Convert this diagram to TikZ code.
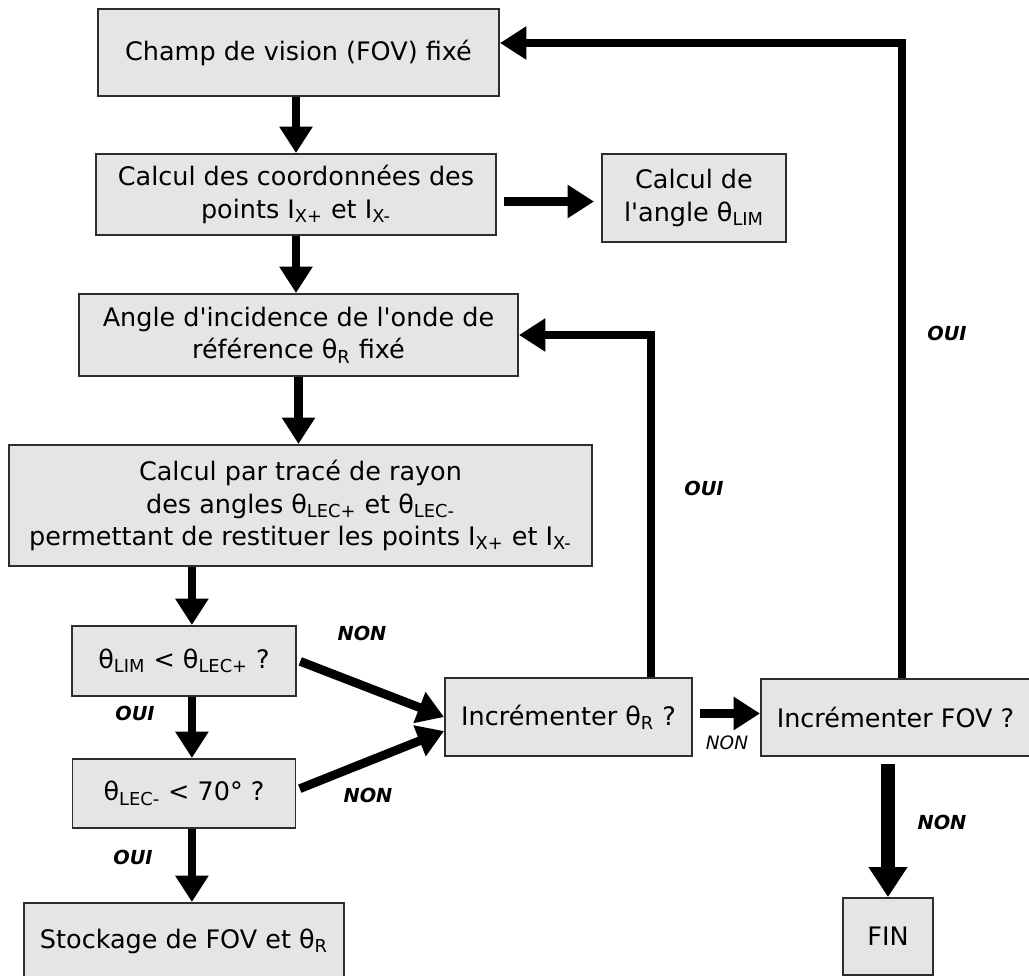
\documentclass[tikz,border=0pt]{standalone}
\usepackage{fontspec}
\setmainfont{DejaVu Sans}
\usepackage{tikz}
\usepackage{xcolor}
\usetikzlibrary{positioning, arrows.meta}
\definecolor{fcfill}{RGB}{229, 229, 229}
\definecolor{fcline}{RGB}{45, 45, 45}
\newcommand{\fcsub}[1]{\textsubscript{#1}}
\newcommand{\fcq}{\textquotesingle}
\tikzset{
    fcbox/.style={rectangle, draw=fcline, fill=fcfill, line width=1.1pt, align=center, inner sep=2pt, font=\fontsize{14.5}{18.5}\selectfont},
    fcarrow/.style={line width=5pt, -{Triangle[width=18pt, length=15pt]}},
    bigarrow/.style={line width=8.5pt, -{Triangle[width=21pt, length=17pt]}},
    fclabel/.style={font=\fontsize{11}{13}\selectfont\bfseries\itshape}
}

\begin{document}
\begin{tikzpicture}[x=0.2mm, y=-0.2mm]
    \useasboundingbox (0,0) rectangle (1029,976);
    \node[fcbox, minimum width=80.2mm, minimum height=17.4mm] (fov) at (298.5,52.5) {Champ de vision (FOV) fixé};
    \node[fcbox, minimum width=80mm, minimum height=16.2mm] (coord) at (296,194.5) {Calcul des coordonnées des\\points I\fcsub{X+} et I\fcsub{X-}};
    \node[fcbox, minimum width=36.8mm, minimum height=17.6mm] (lim) at (694,198) {Calcul de\\l\fcq angle θ\fcsub{LIM}};
    \node[fcbox, minimum width=87.8mm, minimum height=16.4mm] (incid) at (298.5,335) {Angle d\fcq incidence de l\fcq onde de\\référence θ\fcsub{R} fixé};
    \node[fcbox, minimum width=116.6mm, minimum height=24.2mm] (trace) at (300.5,505.5) {Calcul par tracé de rayon\\des angles θ\fcsub{LEC+} et θ\fcsub{LEC-}\\permettant de restituer les points I\fcsub{X+} et I\fcsub{X-}};
    \node[fcbox, minimum width=44.8mm, minimum height=14mm] (tlim) at (184,661) {θ\fcsub{LIM} < θ\fcsub{LEC+} ?};
    \node[fcbox, minimum width=44.6mm, minimum height=13.8mm] (tlec) at (184,793.5) {θ\fcsub{LEC-} < 70° ?};
    \node[fcbox, minimum width=64mm, minimum height=15.4mm] (stock) at (184,941.5) {Stockage de FOV et θ\fcsub{R}};
    \node[fcbox, minimum width=49.4mm, minimum height=15.6mm] (incr) at (568.5,717) {Incrémenter θ\fcsub{R} ?};
    \node[fcbox, minimum width=53.8mm, minimum height=15.4mm] (incfov) at (895.5,717.5) {Incrémenter FOV ?};
    \node[fcbox, minimum width=18mm, minimum height=15.4mm] (fin) at (888,936.5) {FIN};

    \coordinate (tlimtop) at ([xshift=4.5pt]tlim.north);
    \draw[fcarrow] (fov.south -| coord.north) -- (coord.north);
    \draw[fcarrow, shorten <=4pt, shorten >=4pt] ([yshift=-4pt]coord.east) -- ([yshift=-4pt]coord.east -| lim.west);
    \draw[fcarrow] (coord.south) -- (coord.south |- incid.north);
    \draw[fcarrow] (incid.south) -- (incid.south |- trace.north);
    \draw[fcarrow] (trace.south -| tlimtop) -- (tlimtop);
    \draw[fcarrow] ([xshift=4.5pt]tlim.south) -- ([xshift=4.5pt]tlec.north);
    \draw[fcarrow] ([xshift=4.5pt]tlec.south) -- ([xshift=4.5pt]stock.north);
    \draw[fcarrow, shorten <=2pt] ([yshift=0.5pt]tlim.east) -- (incr.west);
    \draw[fcarrow, shorten <=2pt] ([yshift=2pt]tlec.east) -- ([yshift=-8pt]incr.west);
    \draw[fcarrow, shorten <=4pt] ([yshift=2pt]incr.east) -- ([yshift=2pt]incr.east -| incfov.west);
    \draw[fcarrow] ([xshift=47pt]incr.north) |- (incid.east);
    \draw[fcarrow] ([xshift=3.7pt]incfov.north) |- ([yshift=5.4pt]fov.east);
    \draw[bigarrow, shorten <=4pt] (incfov.south -| fin.north) -- (fin.north);

    \node[fclabel] (non1) at (362,633) {NON};
    \node[fclabel] (oui1) at (135,713) {OUI};
    \node[fclabel] (non2) at (368,795) {NON};
    \node[fclabel] (oui2) at (133,857) {OUI};
    \node[fclabel] (oui3) at (704,488) {OUI};
    \node[fclabel] (oui4) at (947,333) {OUI};
    \node[fclabel, font=\fontsize{10.5}{12}\selectfont\itshape] (non3) at (727,743) {NON};
    \node[fclabel] (non4) at (942,822) {NON};
\end{tikzpicture}
\end{document}
